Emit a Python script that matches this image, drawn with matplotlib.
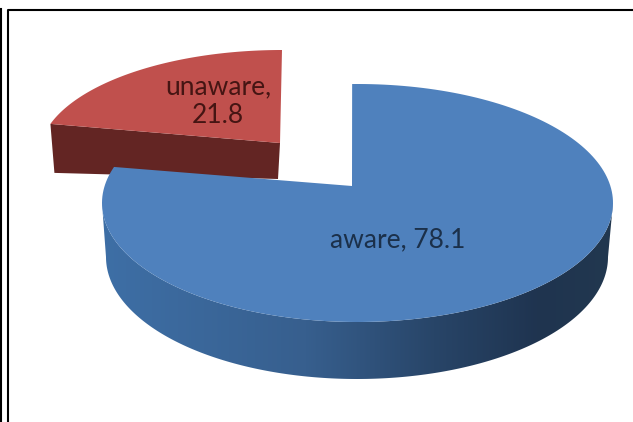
import matplotlib
matplotlib.use('Agg')
import matplotlib.pyplot as plt
from matplotlib.colors import LinearSegmentedColormap
from matplotlib.patches import Polygon
import numpy as np

categories = ['aware', 'unaware']
values = [78.1, 21.8]

plt.rcParams['font.family'] = ['Lato', 'DejaVu Sans']

fig = plt.figure(figsize=(6.33, 4.22), dpi=100)
ax = fig.add_axes([0, 0, 1, 1])
ax.set_xlim(0, 633)
ax.set_ylim(422, 0)
ax.axis('off')


def ellipse(cx, cy, rx, ry, start, end):
    # angles run clockwise from 12 o'clock
    t = np.radians(np.linspace(start, end, 200))
    return np.column_stack([cx + rx * np.sin(t), cy - ry * np.cos(t)])


total = sum(values)
# perspective stretches the angles a bit on the tilted disc
split = values[0] / total * 360 * 1.022

# red slice
red_top = ellipse(282, 156, 243, 106, split, 360)
apex = np.array([280, 143])
left = red_top[0]
ax.add_patch(Polygon([left, apex, apex + [-2, 36], left + [4, 49]], fc='#632523', ec='none'))
ax.add_patch(Polygon(np.vstack([[apex], red_top]), fc='#c0504d', ec='none'))

# blue side with gradient, dark towards the right
upper = ellipse(357.5, 203, 255.5, 119, 90, 270)
lower = ellipse(357, 257, 251, 122, 270, 90)
side = Polygon(np.vstack([upper, lower]), fc='none', ec='none')
ax.add_patch(side)
cmap = LinearSegmentedColormap.from_list('side', [(0, '#3e6fa6'), (0.4, '#375f8e'), (0.65, '#284568'),
                                                  (0.85, '#1f3450'), (1, '#22384f')])
grad = ax.imshow(np.linspace(0, 1, 256)[None, :], cmap=cmap, aspect='auto',
                 extent=(100, 615, 385, 200), zorder=1.5)
grad.set_clip_path(side)
ax.set_xlim(0, 633)
ax.set_ylim(422, 0)

# blue top
blue_top = ellipse(357.5, 203, 255.5, 119, -1.2, split)
ax.add_patch(Polygon(np.vstack([[[352, 186]], blue_top]), fc='#4f81bd', ec='none', zorder=2))

ax.text(398, 240, f'{categories[0]}, {values[0]}', fontsize=19, color='#1b304a',
        ha='center', va='center', zorder=3)
ax.text(218, 101, f'{categories[1]},\n{values[1]}', fontsize=19, color='#451513',
        ha='center', va='center', linespacing=1.2, zorder=3)

# frame, no right or bottom edge in the scan
ax.plot([8, 8, 633], [422, 10, 10], color='black', lw=1.5, zorder=4)
ax.plot([0.5, 0.5], [9, 422], color='black', lw=1.5, zorder=4)

fig.savefig('out.png', dpi=100)
